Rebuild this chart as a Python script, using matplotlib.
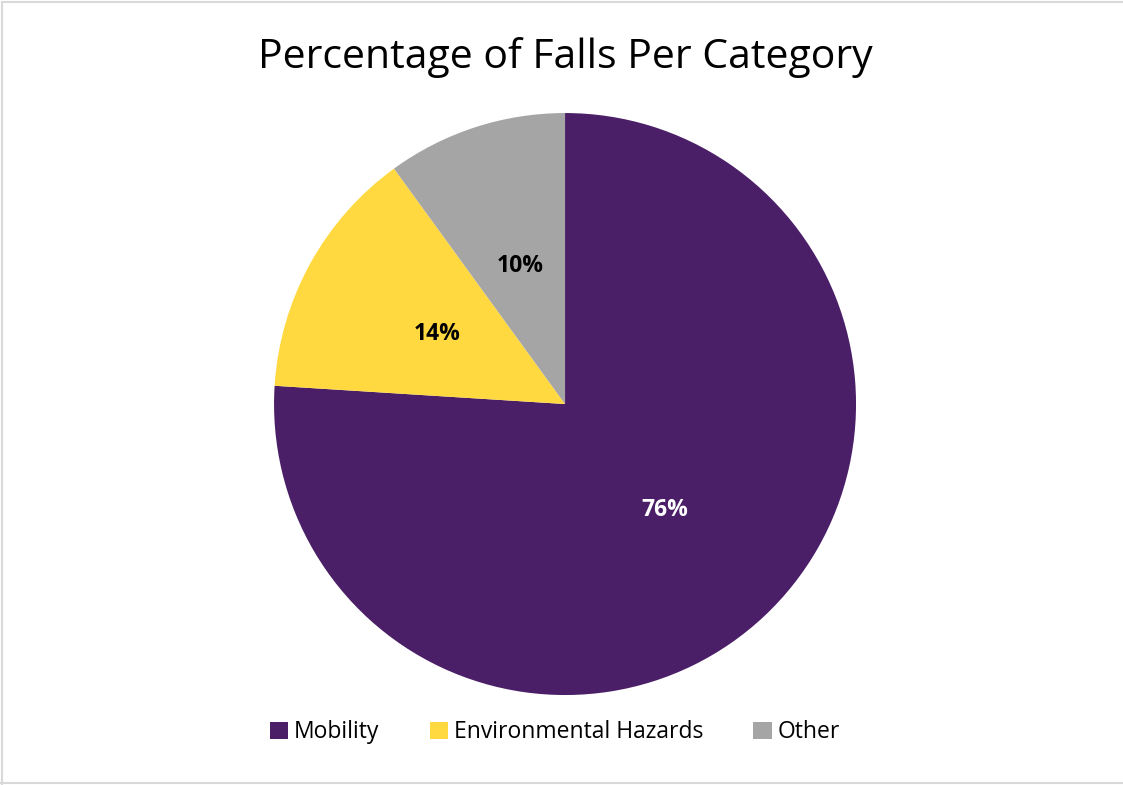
import matplotlib.pyplot as plt
from matplotlib.lines import Line2D

categories = ['Mobility', 'Environmental Hazards', 'Other']
values = [76, 14, 10]
colors = ['#4B1F68', '#FFD93F', '#A5A5A5']

plt.rcParams['font.family'] = ['Open Sans', 'DejaVu Sans']

fig = plt.figure(figsize=(11.23, 7.85), dpi=100)
ax = fig.add_axes([0.244, 0.1146, 0.5183, 0.7414])

wedges, texts, autotexts = ax.pie(values, colors=colors, startangle=90, counterclock=False,
                                  autopct='%1.0f%%', pctdistance=0.5, radius=1,
                                  wedgeprops=dict(linewidth=0))
for i, t in enumerate(autotexts):
    t.set_fontsize(16.5)
    t.set_fontweight('bold')
    t.set_color('white' if i == 0 else 'black')
ax.set_xlim(-1.0, 1.0)
ax.set_ylim(-1.0, 1.0)
ax.set_aspect('equal')

fig.text(0.503, 0.927, 'Percentage of Falls Per Category', ha='center', va='center', fontsize=29.5)

fig.legend(wedges, categories, loc='center', bbox_to_anchor=(0.494, 0.067), ncol=3,
           frameon=False, fontsize=16.5, handlelength=0.8, handleheight=0.8,
           handletextpad=0.25, columnspacing=2.2)

# chart area border (top, left, bottom)
for xs, ys in [([0.002, 1.0], [0.997, 0.997]), ([0.002, 0.002], [0.0, 0.997]), ([0.0, 1.0], [0.002, 0.002])]:
    fig.add_artist(Line2D(xs, ys, transform=fig.transFigure, color='#D9D9D9', linewidth=1.5))

fig.savefig('out.png', dpi=100)
